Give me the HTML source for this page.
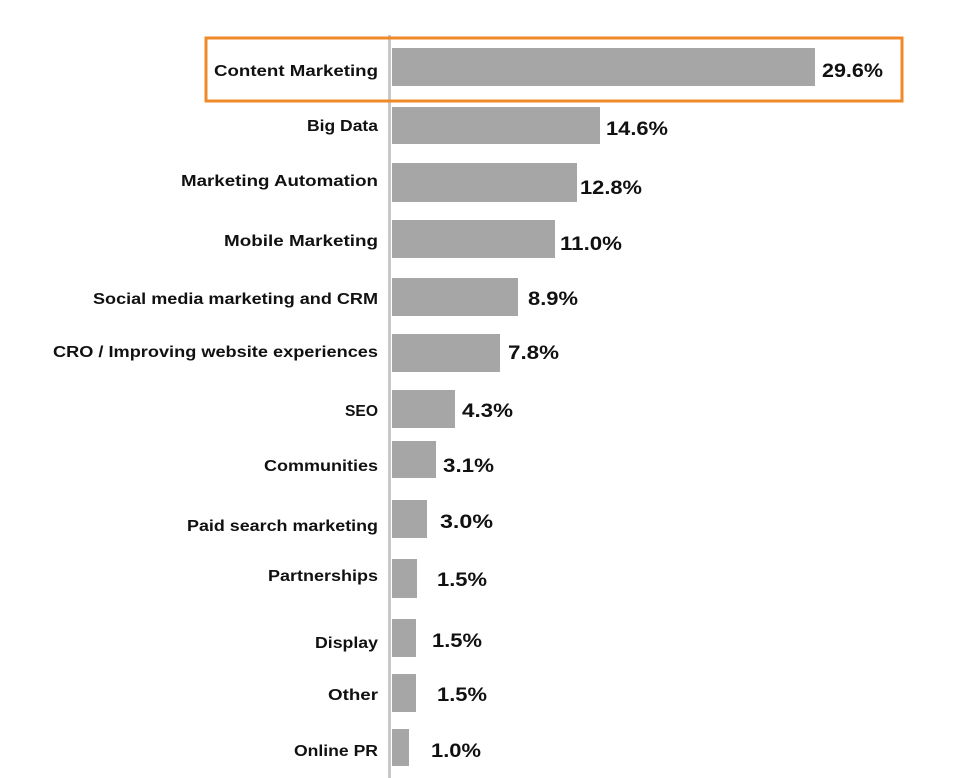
<!DOCTYPE html>
<html><head><meta charset="utf-8"><style>
html,body{margin:0;padding:0;background:#fff;}
svg{display:block;}
.l{font-family:"Liberation Sans",sans-serif;font-weight:bold;font-size:16px;fill:#111;}
.v{font-family:"Liberation Sans",sans-serif;font-weight:bold;font-size:19px;fill:#111;}
</style></head><body>
<svg width="970" height="778" viewBox="0 0 970 778" xmlns="http://www.w3.org/2000/svg">
<rect x="388" y="35" width="3" height="743" fill="#c8c8c8"/>
<g fill="#a6a6a6">
<rect x="392" y="48" width="423" height="38"/>
<rect x="392" y="107" width="208" height="37"/>
<rect x="392" y="163" width="185" height="39"/>
<rect x="392" y="220" width="163" height="38"/>
<rect x="392" y="278" width="126" height="38"/>
<rect x="392" y="334" width="108" height="38"/>
<rect x="392" y="390" width="63" height="38"/>
<rect x="392" y="441" width="44" height="37"/>
<rect x="392" y="500" width="35" height="38"/>
<rect x="392" y="559" width="25" height="39"/>
<rect x="392" y="619" width="24" height="38"/>
<rect x="392" y="674" width="24" height="38"/>
<rect x="392" y="729" width="17" height="37"/>
</g>
<rect x="206" y="38" width="696" height="63" fill="none" stroke="#f0892a" stroke-width="3"/>
<g class="l" text-anchor="end">
<text x="378" y="76" textLength="164" lengthAdjust="spacingAndGlyphs">Content Marketing</text>
<text x="378" y="131" textLength="71" lengthAdjust="spacingAndGlyphs">Big Data</text>
<text x="378" y="186" textLength="197" lengthAdjust="spacingAndGlyphs">Marketing Automation</text>
<text x="378" y="246" textLength="154" lengthAdjust="spacingAndGlyphs">Mobile Marketing</text>
<text x="378" y="304" textLength="285" lengthAdjust="spacingAndGlyphs">Social media marketing and CRM</text>
<text x="378" y="357" textLength="325" lengthAdjust="spacingAndGlyphs">CRO / Improving website experiences</text>
<text x="378" y="416" textLength="33" lengthAdjust="spacingAndGlyphs">SEO</text>
<text x="378" y="471" textLength="114" lengthAdjust="spacingAndGlyphs">Communities</text>
<text x="378" y="531" textLength="191" lengthAdjust="spacingAndGlyphs">Paid search marketing</text>
<text x="378" y="581" textLength="110" lengthAdjust="spacingAndGlyphs">Partnerships</text>
<text x="378" y="648" textLength="63" lengthAdjust="spacingAndGlyphs">Display</text>
<text x="378" y="700" textLength="50" lengthAdjust="spacingAndGlyphs">Other</text>
<text x="378" y="756" textLength="84" lengthAdjust="spacingAndGlyphs">Online PR</text>
</g>
<g class="v">
<text x="822" y="77" textLength="61" lengthAdjust="spacingAndGlyphs">29.6%</text>
<text x="606" y="135" textLength="62" lengthAdjust="spacingAndGlyphs">14.6%</text>
<text x="580" y="194" textLength="62" lengthAdjust="spacingAndGlyphs">12.8%</text>
<text x="560" y="250" textLength="62" lengthAdjust="spacingAndGlyphs">11.0%</text>
<text x="528" y="305" textLength="50" lengthAdjust="spacingAndGlyphs">8.9%</text>
<text x="508" y="359" textLength="51" lengthAdjust="spacingAndGlyphs">7.8%</text>
<text x="462" y="417" textLength="51" lengthAdjust="spacingAndGlyphs">4.3%</text>
<text x="443" y="472" textLength="51" lengthAdjust="spacingAndGlyphs">3.1%</text>
<text x="440" y="528" textLength="53" lengthAdjust="spacingAndGlyphs">3.0%</text>
<text x="437" y="586" textLength="50" lengthAdjust="spacingAndGlyphs">1.5%</text>
<text x="432" y="647" textLength="50" lengthAdjust="spacingAndGlyphs">1.5%</text>
<text x="437" y="701" textLength="50" lengthAdjust="spacingAndGlyphs">1.5%</text>
<text x="431" y="757" textLength="50" lengthAdjust="spacingAndGlyphs">1.0%</text>
</g>
</svg>
</body></html>
